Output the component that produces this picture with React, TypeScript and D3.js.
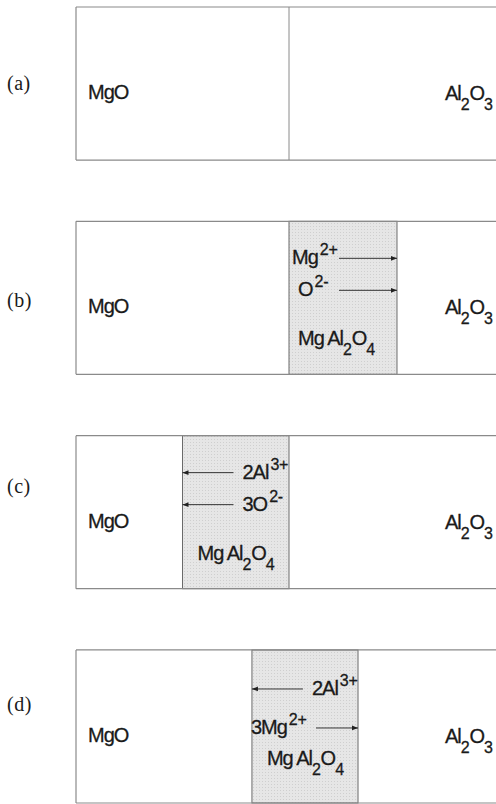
import { useMemo } from 'react'
import * as d3 from 'd3'

// panels of the diffusion couple, top to bottom
const panels = ['(a)', '(b)', '(c)', '(d)']
// spinel layer bounds, position relative to the original MgO/Al2O3 interface (-1 .. 1)
const spinelLeft = [0, 0, -0.5, -0.174]
const spinelRight = [0, 0.507, 0, 0.324]
// ion fluxes through the spinel layer: dir 1 = towards Al2O3, -1 = towards MgO
const fluxPanel = [1, 1, 2, 2, 3, 3]
const fluxIon = ['Mg^2+', 'O^2-', '2Al^3+', '3O^2-', '2Al^3+', '3Mg^2+']
const fluxDir = [1, 1, -1, -1, -1, 1]
const fluxRow = [0, 1, 0, 1, 0, 1]
const phaseLeft = 'MgO'
const phaseRight = 'Al_2O_3'
const spinelName = 'Mg Al_2O_4'

const W = 496
const H = 804
const FONT = '"Liberation Sans", Arial, sans-serif'
// panel letter baseline, below panel top (placed by hand in the original)
const labelDy = [83, 86, 57, 61]

// "Al_2O_3" -> subscript after "_", superscript after "^"
function Formula({ s, x, y, size = 20 }: { s: string; x: number; y: number; size?: number }) {
  const parts: { t: string; k: 'n' | 'sub' | 'sup' }[] = []
  let i = 0
  while (i < s.length) {
    if (s[i] === '_') {
      parts.push({ t: s[i + 1], k: 'sub' })
      i += 2
    } else if (s[i] === '^') {
      parts.push({ t: s.slice(i + 1), k: 'sup' })
      break
    } else {
      let j = i
      while (j < s.length && s[j] !== '_' && s[j] !== '^') j++
      parts.push({ t: s.slice(i, j), k: 'n' })
      i = j
    }
  }
  let shift = 0
  return (
    <text x={x} y={y} fontFamily={FONT} fontSize={size} fill="#1a1a1a" stroke="#1a1a1a" strokeWidth={0.3}>
      {parts.map((p, k) => {
        const target = p.k === 'sub' ? 10 : p.k === 'sup' ? -9 : 0
        const dy = target - shift
        shift = target
        return (
          <tspan
            key={k}
            dy={dy}
            dx={p.k === 'sup' ? 2 : 0}
            letterSpacing={p.k === 'n' ? -1 : -0.3}
            fontSize={p.k === 'n' ? size : 0.8 * size}
          >
            {p.t}
          </tspan>
        )
      })}
    </text>
  )
}

export default function App() {
  const x = useMemo(() => d3.scaleLinear().domain([-1, 1]).range([76, 502]), [])
  const y = useMemo(
    () => d3.scaleBand<string>().domain(panels).range([7, 803]).paddingInner(0.286).paddingOuter(0),
    []
  )
  const bw = y.bandwidth()
  const stroke = '#8a8a8a'

  return (
    <svg width={W} height={H} style={{ position: 'absolute', left: 0, top: 0, background: '#fff' }}>
      <defs>
        <pattern id="stipple" width="3" height="3" patternUnits="userSpaceOnUse">
          <rect width="3" height="3" fill="#e6e6e6" />
          <rect x="1" y="1" width="1" height="1" fill="#cfcfcf" />
        </pattern>
        <marker id="head" viewBox="0 0 10 10" refX="10" refY="5" markerWidth="8" markerHeight="6" orient="auto-start-reverse" markerUnits="userSpaceOnUse">
          <path d="M0,1 L10,5 L0,9 Z" fill="#222" />
        </marker>
      </defs>
      {panels.map((p, i) => {
        const top = y(p)!
        const bottom = top + bw
        const l = x(spinelLeft[i])
        const r = x(spinelRight[i])
        const left = x(-1)
        return (
          <g key={p}>
            <text x={7} y={top + labelDy[i]} fontFamily='"Liberation Serif", serif' fontSize={20} fill="#1a1a1a" letterSpacing={0.5}>
              {p}
            </text>
            {r > l ? (
              <rect x={l} y={top} width={r - l} height={bw} fill="url(#stipple)" stroke="#6a6a6a" strokeWidth={1} />
            ) : (
              <line x1={l} x2={l} y1={top} y2={bottom} stroke={stroke} strokeWidth={1} />
            )}
            <line x1={left} x2={W} y1={top} y2={top} stroke={stroke} strokeWidth={1.2} />
            <line x1={left} x2={W} y1={bottom} y2={bottom} stroke={stroke} strokeWidth={1.2} />
            <line x1={left} x2={left} y1={top} y2={bottom} stroke={stroke} strokeWidth={1.2} />
            <Formula s={phaseLeft} x={88} y={top + 92} />
            <Formula s={phaseRight} x={445} y={top + 93} />
            {r > l && <Formula s={spinelName} x={i === 1 ? l + 9 : l + 15} y={top + (i === 3 ? 115 : 124)} />}
          </g>
        )
      })}
      {fluxIon.map((ion, k) => {
        const i = fluxPanel[k]
        const top = y(panels[i])!
        const l = x(spinelLeft[i])
        const r = x(spinelRight[i])
        const ay = top + (i === 3 ? [39, 78] : [37, 69])[fluxRow[k]]
        let x1: number, x2: number, tx: number
        if (fluxDir[k] > 0) {
          x2 = r
          x1 = i === 3 ? r - 42 : r - 58
          tx = i === 3 ? l - 1 : fluxRow[k] === 0 ? l + 3 : l + 9
        } else {
          x2 = l
          x1 = l + 51
          tx = l + 60
        }
        return (
          <g key={k}>
            <line x1={x1} x2={x2} y1={ay} y2={ay} stroke="#333" strokeWidth={1} markerEnd="url(#head)" />
            <Formula s={ion} x={tx} y={ay + 6} />
          </g>
        )
      })}
    </svg>
  )
}
